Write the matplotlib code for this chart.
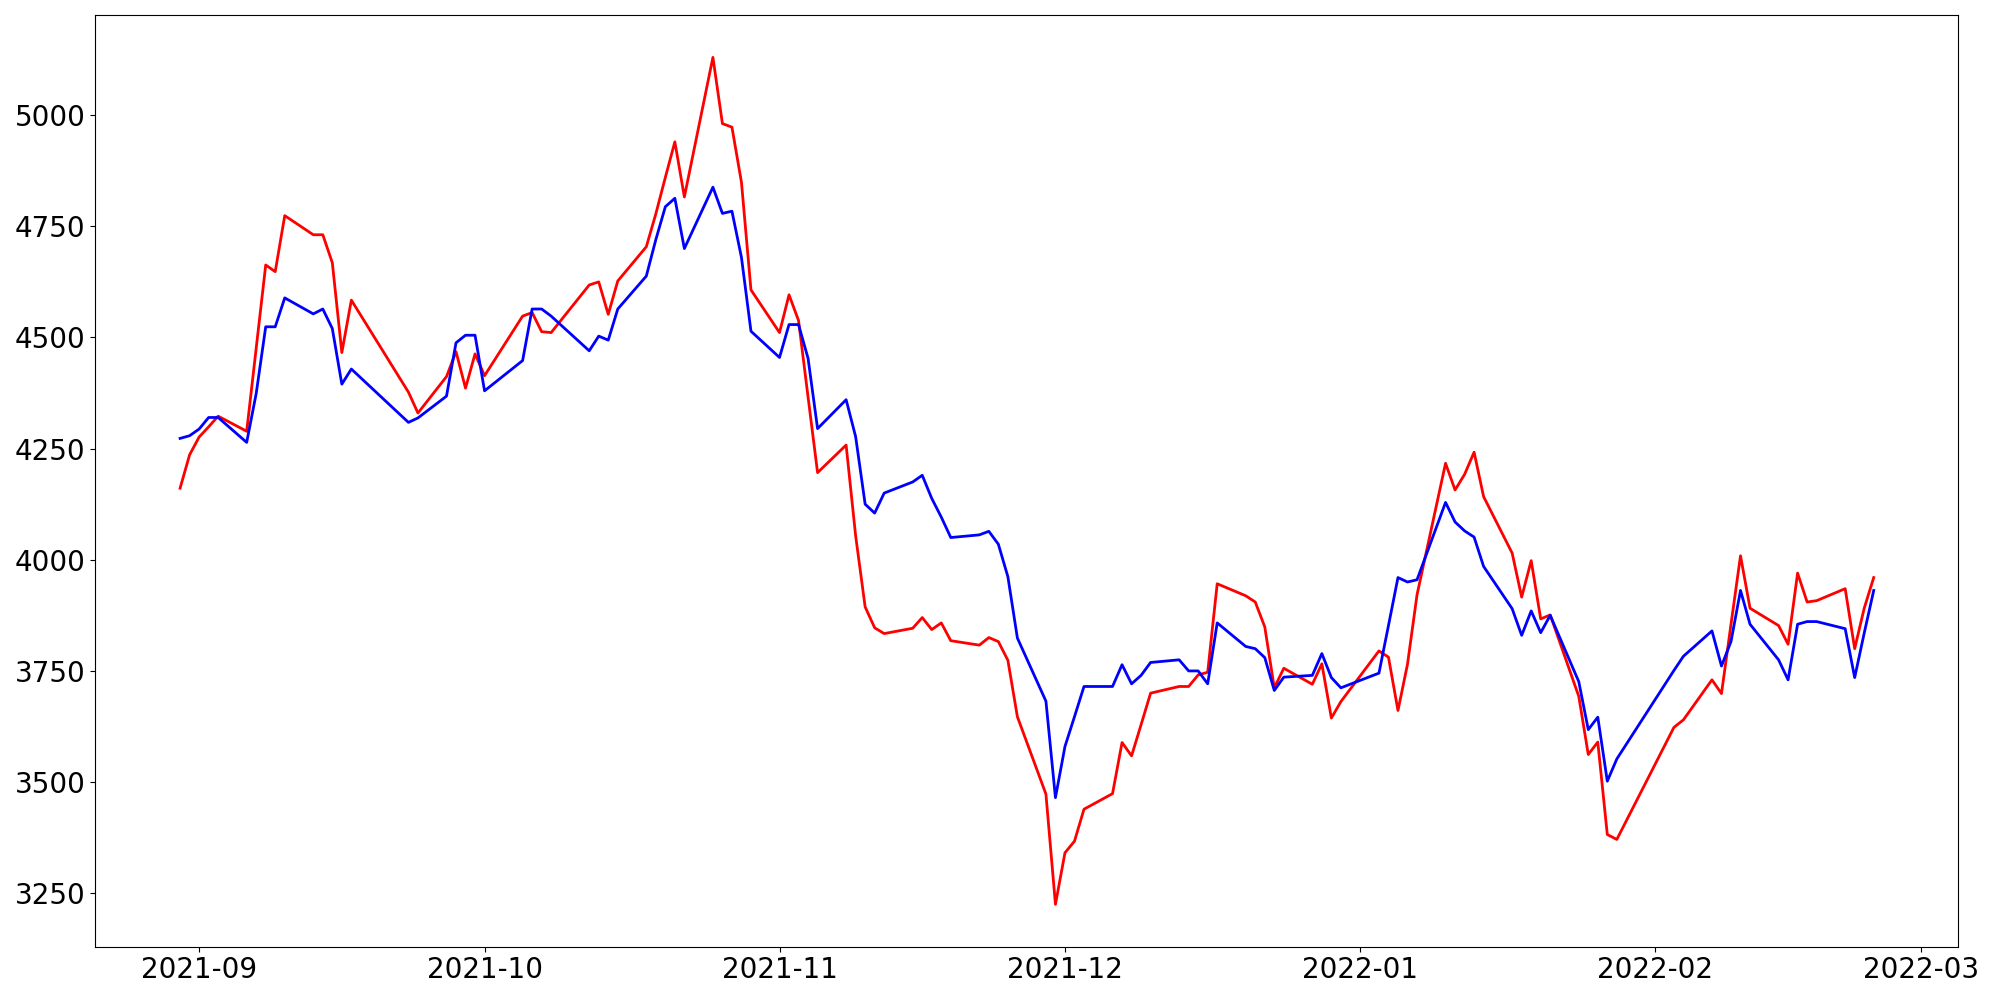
import numpy as np
import pandas as pd
import matplotlib
matplotlib.use("Agg")
import matplotlib.pyplot as plt


# trading days (korean market, holidays skipped)
dias = [
    "2021-08-30", "2021-08-31",
    "2021-09-01", "2021-09-02", "2021-09-03", "2021-09-06", "2021-09-07", "2021-09-08", "2021-09-09",
    "2021-09-10", "2021-09-13", "2021-09-14", "2021-09-15", "2021-09-16", "2021-09-17", "2021-09-23",
    "2021-09-24", "2021-09-27", "2021-09-28", "2021-09-29", "2021-09-30",
    "2021-10-01", "2021-10-05", "2021-10-06", "2021-10-07", "2021-10-08", "2021-10-12", "2021-10-13",
    "2021-10-14", "2021-10-15", "2021-10-18", "2021-10-19", "2021-10-20", "2021-10-21", "2021-10-22",
    "2021-10-25", "2021-10-26", "2021-10-27", "2021-10-28", "2021-10-29",
    "2021-11-01", "2021-11-02", "2021-11-03", "2021-11-04", "2021-11-05", "2021-11-08", "2021-11-09",
    "2021-11-10", "2021-11-11", "2021-11-12", "2021-11-15", "2021-11-16", "2021-11-17", "2021-11-18",
    "2021-11-19", "2021-11-22", "2021-11-23", "2021-11-24", "2021-11-25", "2021-11-26", "2021-11-29",
    "2021-11-30",
    "2021-12-01", "2021-12-02", "2021-12-03", "2021-12-06", "2021-12-07", "2021-12-08", "2021-12-09",
    "2021-12-10", "2021-12-13", "2021-12-14", "2021-12-15", "2021-12-16", "2021-12-17", "2021-12-20",
    "2021-12-21", "2021-12-22", "2021-12-23", "2021-12-24", "2021-12-27", "2021-12-28", "2021-12-29",
    "2021-12-30",
    "2022-01-03", "2022-01-04", "2022-01-05", "2022-01-06", "2022-01-07", "2022-01-10", "2022-01-11",
    "2022-01-12", "2022-01-13", "2022-01-14", "2022-01-17", "2022-01-18", "2022-01-19", "2022-01-20",
    "2022-01-21", "2022-01-24", "2022-01-25", "2022-01-26", "2022-01-27", "2022-01-28",
    "2022-02-03", "2022-02-04", "2022-02-07", "2022-02-08", "2022-02-09", "2022-02-10", "2022-02-11",
    "2022-02-14", "2022-02-15", "2022-02-16", "2022-02-17", "2022-02-18", "2022-02-21", "2022-02-22",
    "2022-02-23", "2022-02-24",
]

rojo = [
    4161, 4236,
    4276, 4299, 4323, 4289, 4476, 4663, 4648, 4774, 4731, 4731, 4668, 4466, 4584, 4377, 4330,
    4412, 4468, 4386, 4463,
    4414, 4548, 4556, 4513, 4511, 4618, 4625, 4552, 4627, 4704, 4778, 4860, 4940, 4816,
    5130, 4981, 4973, 4849, 4607,
    4511, 4596, 4538, 4366, 4196, 4258, 4054, 3894, 3847, 3834, 3846, 3870, 3843, 3858,
    3818, 3808, 3825, 3816, 3774, 3647, 3473, 3225,
    3341, 3367, 3439, 3474, 3589, 3559, 3629, 3700, 3715, 3715, 3741, 3747, 3946, 3919,
    3905, 3849, 3712, 3756, 3720, 3766, 3644, 3681,
    3795, 3781, 3661, 3765, 3921, 4217, 4157, 4192, 4242, 4142, 4015, 3916, 3998, 3867,
    3876, 3693, 3562, 3590, 3382, 3371,
    3623, 3640, 3730, 3699, 3855, 4009, 3891, 3852, 3810, 3970, 3905, 3908, 3935, 3800,
    3891, 3960,
]

azul = [
    4273, 4279,
    4294, 4320, 4320, 4264, 4374, 4524, 4524, 4589, 4553, 4564, 4520, 4395, 4429, 4309, 4319,
    4368, 4488, 4505, 4505,
    4380, 4448, 4564, 4564, 4548, 4470, 4503, 4494, 4564, 4638, 4720, 4794, 4813, 4700,
    4838, 4779, 4784, 4680, 4514,
    4455, 4529, 4529, 4453, 4295, 4360, 4277, 4125, 4105, 4150, 4175, 4190, 4138, 4096,
    4050, 4056, 4064, 4035, 3962, 3824, 3682, 3465,
    3580, 3647, 3715, 3715, 3764, 3721, 3740, 3769, 3775, 3750, 3750, 3721, 3858, 3805,
    3800, 3780, 3706, 3736, 3740, 3789, 3735, 3712,
    3745, 3852, 3960, 3950, 3955, 4129, 4085, 4065, 4051, 3985, 3890, 3830, 3885, 3836,
    3875, 3726, 3618, 3646, 3502, 3552,
    3751, 3783, 3840, 3761, 3816, 3931, 3855, 3775, 3730, 3855, 3861, 3861, 3845, 3735,
    3835, 3931,
]

fechas = pd.to_datetime(dias)

fig = plt.figure(figsize=(20, 10), dpi=100)
ax = fig.add_axes([0.0477, 0.0533, 0.9315, 0.9317])
ax.plot(fechas, rojo, color="red", linewidth=2)
ax.plot(fechas, azul, color="blue", linewidth=2)
ax.set_yticks([3250, 3500, 3750, 4000, 4250, 4500, 4750, 5000])
ax.tick_params(labelsize=20)
plt.savefig("out.png")
